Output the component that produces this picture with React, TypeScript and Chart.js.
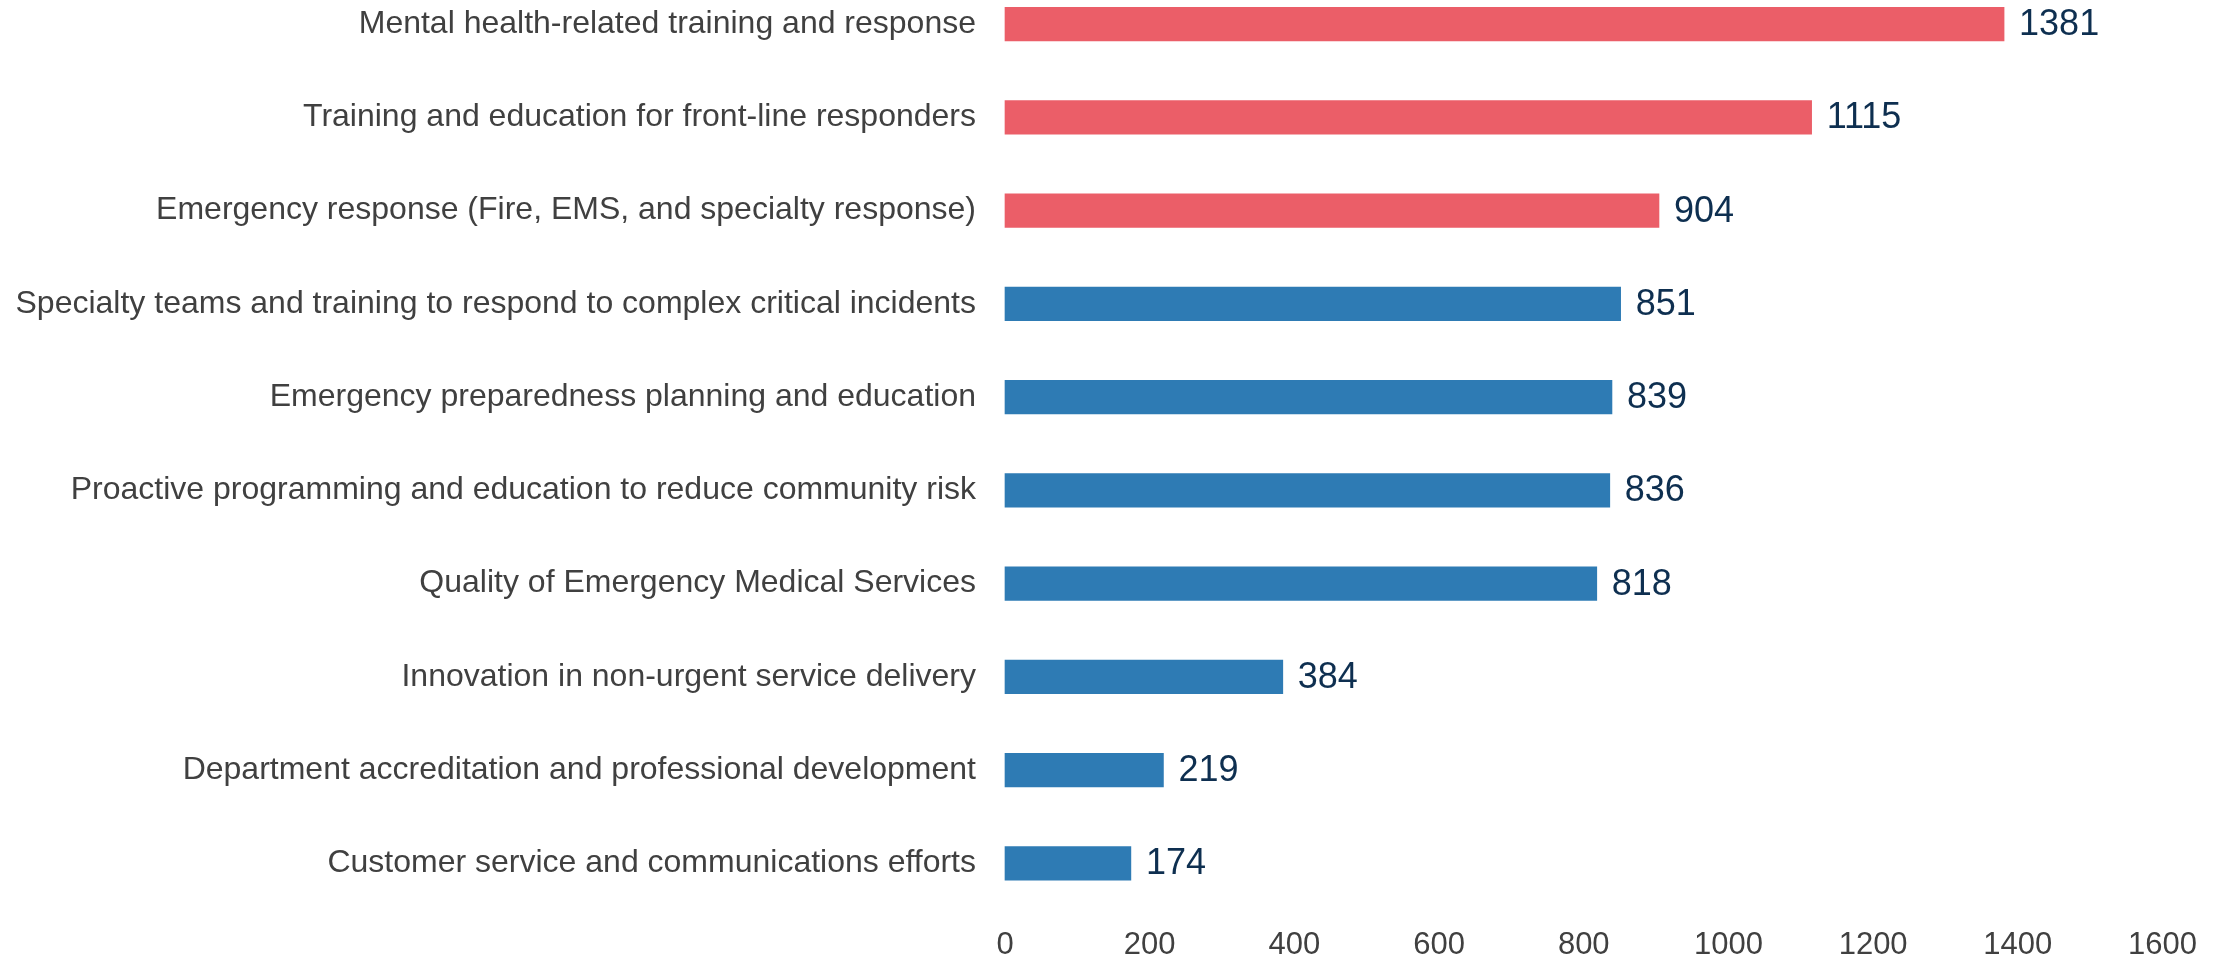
import React, { useEffect, useRef } from 'react';
import { Chart, registerables } from 'chart.js';

Chart.register(...registerables);

const categories = [
  'Mental health-related training and response',
  'Training and education for front-line responders',
  'Emergency response (Fire, EMS, and specialty response)',
  'Specialty teams and training to respond to complex critical incidents',
  'Emergency preparedness planning and education',
  'Proactive programming and education to reduce community risk',
  'Quality of Emergency Medical Services',
  'Innovation in non-urgent service delivery',
  'Department accreditation and professional development',
  'Customer service and communications efforts',
];
const values = [1381, 1115, 904, 851, 839, 836, 818, 384, 219, 174];
const highlighted = [true, true, true, false, false, false, false, false, false, false];
const xMin = 0;
const xMax = 1600;
const xStep = 200;

const RED = '#EB5E68';
const BLUE = '#2E7BB4';
const FONT = '"Liberation Sans", Arial, Helvetica, sans-serif';

const dataLabelPlugin = {
  id: 'barValueLabels',
  afterDatasetsDraw(chart: any) {
    const ctx = chart.ctx;
    const meta = chart.getDatasetMeta(0);
    ctx.save();
    ctx.font = `36px ${FONT}`;
    ctx.fillStyle = '#0E2F50';
    ctx.textAlign = 'left';
    ctx.textBaseline = 'middle';
    meta.data.forEach((bar: any, i: number) => {
      ctx.fillText(String(values[i]), bar.x + 15, bar.y + 1);
    });
    ctx.restore();
  },
};

export default function App() {
  const canvasRef = useRef<HTMLCanvasElement | null>(null);

  useEffect(() => {
    if (!canvasRef.current) return;
    const chart = new Chart(canvasRef.current, {
      type: 'bar',
      data: {
        labels: categories,
        datasets: [
          {
            data: values,
            backgroundColor: highlighted.map((h) => (h ? RED : BLUE)),
            borderWidth: 0,
            barThickness: 33.5,
            clip: false as any,
          },
        ],
      },
      options: {
        indexAxis: 'y',
        animation: false,
        responsive: true,
        maintainAspectRatio: false,
        layout: { padding: { top: 24.2, right: 61.5, left: 0, bottom: 0 } },
        plugins: {
          legend: { display: false },
          tooltip: { enabled: false },
        },
        scales: {
          x: {
            type: 'linear',
            min: xMin,
            max: xMax,
            grid: { display: false, drawTicks: false },
            border: { display: false },
            ticks: {
              stepSize: xStep,
              color: '#404040',
              font: { family: FONT, size: 31 },
              padding: 64,
              maxRotation: 0,
              callback: (v: any) => String(v),
            },
            afterFit: (s: any) => {
              s.height = 97.7;
              s.paddingLeft = 0;
              s.paddingRight = 0;
            },
          },
          y: {
            type: 'category',
            offset: false,
            grid: { display: false, drawTicks: false },
            border: { display: false },
            ticks: {
              color: '#404040',
              font: { family: FONT, size: 32 },
              padding: 29,
              autoSkip: false,
            },
            afterFit: (s: any) => {
              s.width = 1005;
              s.paddingTop = 0;
              s.paddingBottom = 0;
            },
          },
        },
      },
      plugins: [dataLabelPlugin],
    });
    return () => chart.destroy();
  }, []);

  return (
    <div style={{ position: 'fixed', left: 0, top: 0, width: 2224, height: 961, background: '#fff' }}>
      <canvas ref={canvasRef} />
    </div>
  );
}
